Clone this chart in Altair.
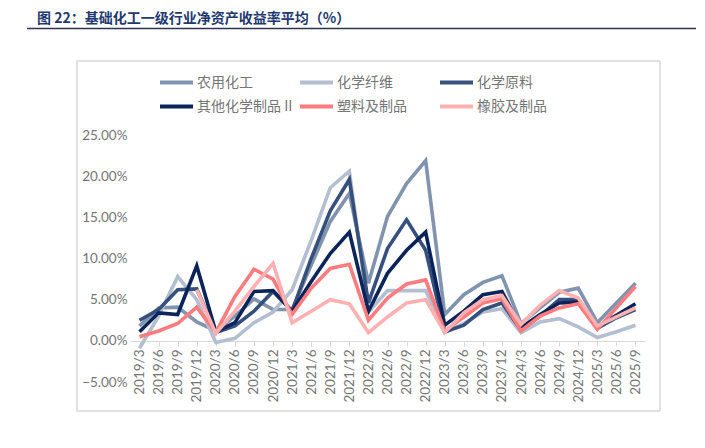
import altair as alt
import pandas as pd

categories = ["2019/3", "2019/6", "2019/9", "2019/12", "2020/3", "2020/6", "2020/9", "2020/12",
              "2021/3", "2021/6", "2021/9", "2021/12", "2022/3", "2022/6", "2022/9", "2022/12",
              "2023/3", "2023/6", "2023/9", "2023/12", "2024/3", "2024/6", "2024/9", "2024/12",
              "2025/3", "2025/6", "2025/9"]

series_names = ["农用化工", "化学纤维", "化学原料", "其他化学制品 II", "塑料及制品", "橡胶及制品"]
series_colors = ["#8094B0", "#B3BED0", "#36507E", "#0B2459", "#FF7B7D", "#FFB1B1"]

agro = [1.8, 4.0, 4.1, 2.3, 1.2, 3.0, 5.1, 3.8, 3.8, 9.2, 14.5, 17.9, 7.0, 15.1, 19.1, 21.9,
        3.2, 5.6, 7.1, 7.9, 2.1, 4.0, 5.9, 6.4, 2.2, 4.6, 7.0]
fiber = [-0.9, 3.0, 7.8, 5.0, -0.2, 0.3, 2.2, 3.5, 6.2, 12.2, 18.6, 20.6, 3.5, 6.1, 6.1, 6.1,
         1.0, 2.1, 3.5, 3.9, 1.0, 2.3, 2.7, 1.7, 0.4, 1.1, 1.9]
raw = [2.5, 3.8, 6.2, 6.3, 1.0, 1.8, 3.6, 6.0, 3.6, 10.0, 15.8, 19.6, 4.6, 11.2, 14.7, 11.0,
       1.1, 1.9, 3.8, 4.6, 1.3, 3.0, 5.0, 5.0, 1.5, 2.8, 3.8]
other = [1.1, 3.4, 3.2, 9.1, 1.1, 2.2, 6.0, 6.1, 3.6, 7.2, 10.6, 13.2, 3.6, 8.2, 11.0, 13.2,
         1.9, 3.6, 5.6, 6.0, 1.6, 3.2, 4.6, 4.7, 1.7, 3.1, 4.5]
plastic = [0.5, 1.2, 2.1, 4.1, 1.0, 5.4, 8.7, 7.5, 3.2, 6.4, 8.8, 9.3, 2.5, 5.2, 6.9, 7.4,
           1.2, 2.9, 4.6, 5.1, 1.2, 3.0, 4.0, 4.5, 1.4, 4.0, 6.6]
rubber = [None, None, None, 6.2, 0.9, 3.6, 6.6, 9.4, 2.2, 3.6, 5.0, 4.5, 1.0, 2.9, 4.6, 5.0,
          1.0, 3.4, 5.0, 5.5, 2.0, 4.3, 6.1, 5.2, 1.8, 2.9, 4.0]

y_ticks = [-5, 0, 5, 10, 15, 20, 25]
title_text = "图 22：基础化工一级行业净资产收益率平均（%）"

rows = []
for name, vals in zip(series_names, [agro, fiber, raw, other, plastic, rubber]):
    for c, v in zip(categories, vals):
        if v is not None:
            rows.append({"period": c, "series": name, "value": v})
df = pd.DataFrame(rows)
legend_df = pd.DataFrame({"series": series_names, "idx": list(range(len(series_names)))})

W, H = 515, 247
TXT = "#757575"
LBL_FONT = "Lato"
CJK = "Noto Sans CJK SC"

color_scale = alt.Scale(domain=series_names, range=series_colors)

lines = alt.Chart(df).mark_line(strokeWidth=3.6).encode(
    x=alt.X("period:N", sort=categories,
            scale=alt.Scale(type="point", padding=0.5),
            axis=alt.Axis(title=None, offset=-41, labelAngle=270, labelAlign="right",
                          labelBaseline="middle", labelPadding=3, tickSize=5,
                          domainColor="#D9D9D9", tickColor="#D9D9D9", domainWidth=1,
                          labelColor=TXT, labelFontSize=13.5, labelFont=LBL_FONT,
                          grid=False)),
    y=alt.Y("value:Q",
            scale=alt.Scale(domain=[-5, 25], nice=False, zero=False),
            axis=alt.Axis(title=None, values=y_ticks,
                          labelExpr="format(datum.value, '.2f') + '%'",
                          domain=False, ticks=False, grid=False, labelPadding=3,
                          labelColor=TXT, labelFontSize=13.5, labelFont=LBL_FONT)),
    color=alt.Color("series:N", sort=series_names, scale=color_scale, legend=None),
)

leg_base = alt.Chart(legend_df).transform_calculate(
    col="datum.idx % 3",
    row="floor(datum.idx / 3)",
).transform_calculate(
    sx1="30 + 140 * datum.col",
    sx2="63 + 140 * datum.col",
    tx="67 + 140 * datum.col",
    ly="-52.5 + 24 * datum.row",
)

leg_rule = leg_base.mark_rule(strokeWidth=4).encode(
    x=alt.X("sx1:Q", scale=None, axis=None),
    x2="sx2:Q",
    y=alt.Y("ly:Q", scale=None, axis=None),
    color=alt.Color("series:N", sort=series_names, scale=color_scale, legend=None),
)

leg_text = leg_base.mark_text(align="left", baseline="middle", fontSize=14, font=CJK,
                              color=TXT).encode(
    x=alt.X("tx:Q", scale=None, axis=None),
    y=alt.Y("ly:Q", scale=None, axis=None),
    text="series:N",
)

border = alt.Chart(pd.DataFrame({"k": [0]})).mark_rect(
    fillOpacity=0, stroke="#D9D9D9", strokeWidth=1.5
).encode(x=alt.value(-53), x2=alt.value(530), y=alt.value(-74), y2=alt.value(276))

title = alt.Chart(pd.DataFrame({"t": [title_text]})).mark_text(
    align="left", baseline="middle", fontSize=14, fontWeight="bold",
    color="#1F3A6E", font=CJK
).encode(text="t:N", x=alt.value(-93), y=alt.value(-116.5))

title_rule = alt.Chart(pd.DataFrame({"k": [0]})).mark_rule(
    color="#2B3550", strokeWidth=1.3
).encode(x=alt.value(-103), x2=alt.value(566), y=alt.value(-106.5))

chart = alt.layer(border, lines, leg_rule, leg_text, title, title_rule).resolve_scale(
    x="independent", y="independent"
).properties(
    width=W, height=H,
    padding={"left": 122, "top": 127, "right": 52, "bottom": 58},
    autosize=alt.AutoSizeParams(type="none"),
).configure_view(stroke=None)

chart.save("out.html", embed_options={"renderer": "svg", "actions": False})
